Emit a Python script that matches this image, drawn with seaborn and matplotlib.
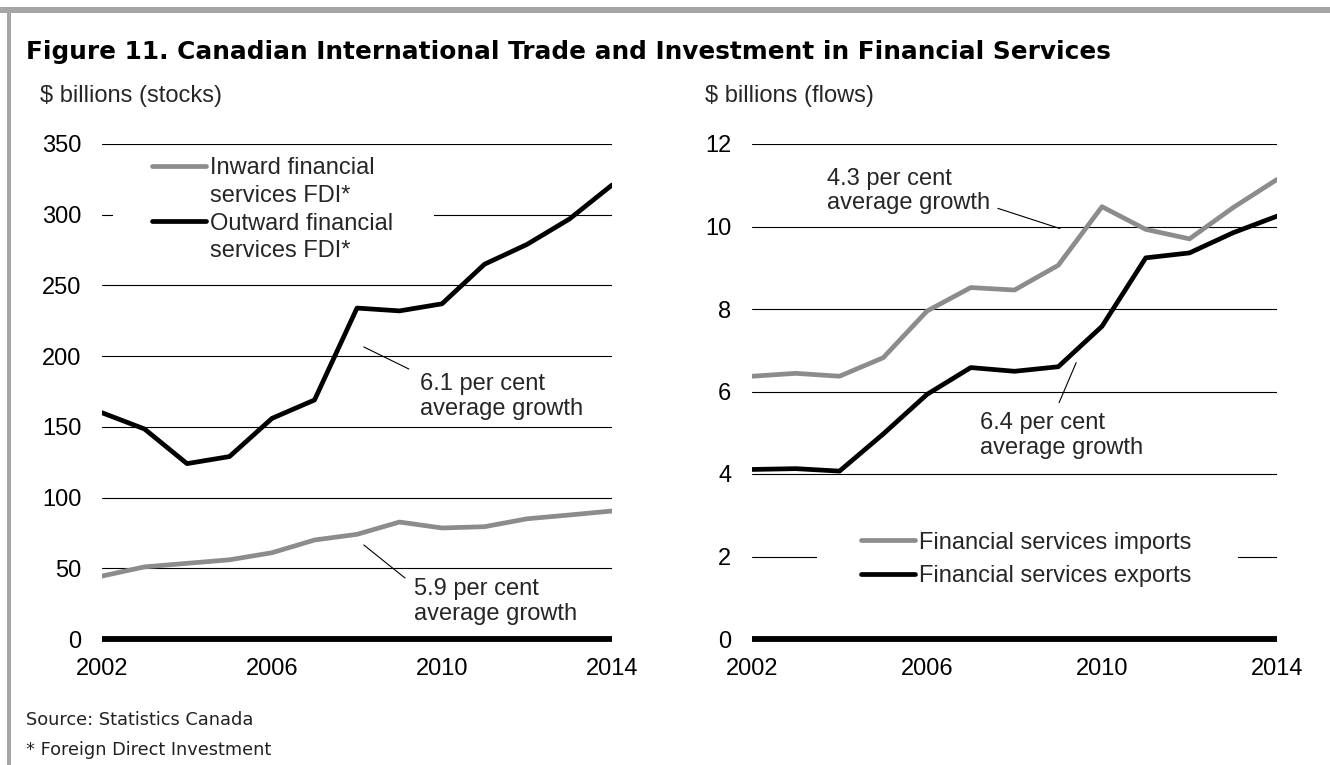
import numpy as np
import pandas as pd
import matplotlib
matplotlib.use("Agg")
import matplotlib.pyplot as plt
from matplotlib.lines import Line2D
from matplotlib.patches import Rectangle
import seaborn as sns

# ---------------- data ----------------
years = [2002, 2003, 2004, 2005, 2006, 2007, 2008, 2009, 2010, 2011, 2012, 2013, 2014]
inward_fdi = [44.5, 51, 53.5, 56, 61, 70, 74, 82.7, 78.5, 79.4, 85, 87.7, 90.5]
outward_fdi = [160, 148.5, 124, 129, 156, 169, 234, 232, 237, 265, 279, 297, 321]
fs_imports = [6.37, 6.44, 6.37, 6.82, 7.95, 8.52, 8.46, 9.06, 10.48, 9.93, 9.70, 10.46, 11.14]
fs_exports = [4.11, 4.13, 4.07, 4.97, 5.93, 6.58, 6.49, 6.60, 7.58, 9.24, 9.36, 9.85, 10.25]

left_labels = ["Inward financial\nservices FDI*", "Outward financial\nservices FDI*"]
right_labels = ["Financial services imports", "Financial services exports"]
left_yticks = [0, 50, 100, 150, 200, 250, 300, 350]
right_yticks = [0, 2, 4, 6, 8, 10, 12]
xticks = [2002, 2006, 2010, 2014]

title = "Figure 11. Canadian International Trade and Investment in Financial Services"
left_unit = "$ billions (stocks)"
right_unit = "$ billions (flows)"
source_note = "Source: Statistics Canada"
star_note = "* Foreign Direct Investment"

GRAY = "#8c8c8c"
BLACK = "#000000"

sns.set_theme(style="white")
plt.rcParams["font.family"] = ["Liberation Sans", "DejaVu Sans"]

W, H = 1330, 765
fig = plt.figure(figsize=(W / 100, H / 100), dpi=100)
fig.patch.set_facecolor("white")


def px_ax(x0, x1, y_top, y_bot):
    return [x0 / W, 1 - y_bot / H, (x1 - x0) / W, (y_bot - y_top) / H]


axL = fig.add_axes(px_ax(102, 612, 144, 639))
axR = fig.add_axes(px_ax(752, 1277, 144, 639))

dfL = pd.DataFrame({
    "year": years * 2,
    "value": inward_fdi + outward_fdi,
    "series": [left_labels[0]] * len(years) + [left_labels[1]] * len(years),
})
dfR = pd.DataFrame({
    "year": years * 2,
    "value": fs_imports + fs_exports,
    "series": [right_labels[0]] * len(years) + [right_labels[1]] * len(years),
})

LW = 3.4
for ax, df, labels, yticks in [(axL, dfL, left_labels, left_yticks),
                               (axR, dfR, right_labels, right_yticks)]:
    sns.lineplot(data=df, x="year", y="value", hue="series", hue_order=labels,
                 palette=[GRAY, BLACK], linewidth=LW, ax=ax, legend=False,
                 zorder=3)
    ax.set_xlim(2002, 2014)
    ax.set_ylim(0, yticks[-1])
    ax.set_yticks(yticks)
    ax.set_xticks(xticks)
    ax.set_xticklabels([str(x) for x in xticks])
    ax.set_xlabel("")
    ax.set_ylabel("")
    for s in ax.spines.values():
        s.set_visible(False)
    ax.grid(axis="y", color="black", linewidth=0.8)
    ax.grid(axis="x", visible=False)
    ax.set_axisbelow(True)
    ax.axhline(0, color="black", linewidth=4.2, zorder=2.5, clip_on=False,
               solid_capstyle="butt")
    ax.tick_params(axis="both", length=0, labelsize=17, colors="black")
    ax.tick_params(axis="x", pad=14)
    ax.tick_params(axis="y", pad=15)
    ax.set_facecolor("white")

# white masks interrupting gridlines behind legends
axL.add_patch(Rectangle((0.0216, 0.735), 0.63, 0.253, transform=axL.transAxes,
                        facecolor="white", edgecolor="none", zorder=1))
axR.add_patch(Rectangle((0.124, 0.089), 0.802, 0.151, transform=axR.transAxes,
                        facecolor="white", edgecolor="none", zorder=1))

# legends
hL = [Line2D([], [], color=GRAY, lw=LW), Line2D([], [], color="none", lw=0),
      Line2D([], [], color=BLACK, lw=LW), Line2D([], [], color="none", lw=0)]
labL = left_labels[0].split("\n") + left_labels[1].split("\n")
legL = axL.legend(hL, labL, loc="upper left", bbox_to_anchor=(0.098, 0.973),
                  frameon=False, fontsize=17, handlelength=2.3, handletextpad=0.17,
                  labelspacing=0.24, borderpad=0, borderaxespad=0)
hR = [Line2D([], [], color=GRAY, lw=LW), Line2D([], [], color=BLACK, lw=LW)]
legR = axR.legend(hR, right_labels, loc="upper left", bbox_to_anchor=(0.2076, 0.217),
                  frameon=False, fontsize=17, handlelength=2.3, handletextpad=0.17,
                  labelspacing=0.5, borderpad=0, borderaxespad=0)
for lg in (legL, legR):
    lg.set_zorder(4)

# annotations
ANN = dict(fontsize=17, ha="left", va="center", linespacing=1.15)
LEAD = dict(arrowstyle="-", color="black", lw=0.8, shrinkA=0, shrinkB=0)
axL.text(2009.48, 171.5, "6.1 per cent\naverage growth", **ANN)
axL.annotate("", xy=(2008.16, 206.5), xytext=(2009.22, 190.9), arrowprops=LEAD)
axL.text(2009.34, 26.5, "5.9 per cent\naverage growth", **ANN)
axL.annotate("", xy=(2008.16, 66.5), xytext=(2009.13, 43.1), arrowprops=LEAD)
axR.text(2003.71, 10.86, "4.3 per cent\naverage growth", **ANN)
axR.annotate("", xy=(2009.04, 9.95), xytext=(2007.62, 10.44), arrowprops=LEAD)
axR.text(2007.21, 4.93, "6.4 per cent\naverage growth", **ANN)
axR.annotate("", xy=(2009.41, 6.70), xytext=(2009.02, 5.73), arrowprops=LEAD)

# titles and notes
fig.text(26 / W, 1 - 52 / H, title, fontsize=17.8, fontweight="bold",
         family=["DejaVu Sans"], ha="left", va="center", color="black")
fig.text(40 / W, 1 - 96 / H, left_unit, fontsize=17, ha="left", va="center")
fig.text(705 / W, 1 - 96 / H, right_unit, fontsize=17, ha="left", va="center")
fig.text(26 / W, 1 - 720 / H, source_note, fontsize=12.8, family=["DejaVu Sans"],
         ha="left", va="center", color="#222222")
fig.text(26 / W, 1 - 750 / H, star_note, fontsize=12.8, family=["DejaVu Sans"],
         ha="left", va="center", color="#222222")

# gray frame (top and left)
fig.add_artist(Rectangle((0, 1 - 13 / H), 1, 6 / H, transform=fig.transFigure,
                         facecolor="#a6a6a6", edgecolor="none"))
fig.add_artist(Rectangle((7 / W, 0), 4 / W, 1 - 7 / H, transform=fig.transFigure,
                         facecolor="#a6a6a6", edgecolor="none"))

fig.savefig("out.png", dpi=100, facecolor="white")
